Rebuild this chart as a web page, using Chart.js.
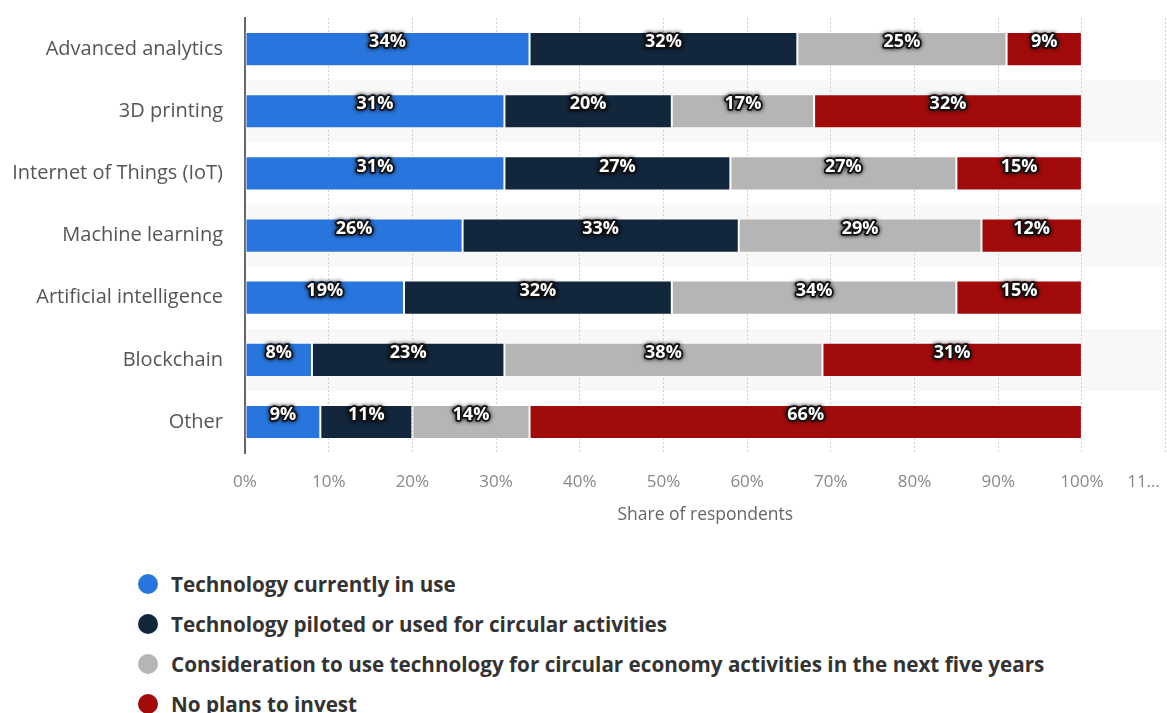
<!DOCTYPE html>
<html>
<head>
<meta charset="utf-8">
<script src="https://cdn.jsdelivr.net/npm/chart.js@4/dist/chart.umd.min.js"></script>
<style>
  html, body { margin: 0; padding: 0; background: #fff; overflow: hidden; }
  #wrap { position: relative; width: 1216px; height: 529px; }
  #legend { position: absolute; left: 138px; top: 564px; font-family: "Open Sans", sans-serif; }
  .item { display: flex; align-items: center; height: 40px; font-size: 20.65px; font-weight: bold; color: #333; white-space: nowrap; }
  .dot { width: 20px; height: 20px; border-radius: 50%; margin-right: 13px; }
</style>
</head>
<body>
<div id="wrap"><canvas id="chart"></canvas></div>
<div id="legend"></div>
<script>
const categories = ['Advanced analytics', '3D printing', 'Internet of Things (IoT)', 'Machine learning',
  'Artificial intelligence', 'Blockchain', 'Other'];
const inUse = [34, 31, 31, 26, 19, 8, 9];
const piloted = [32, 20, 27, 33, 32, 23, 11];
const consideration = [25, 17, 27, 29, 34, 38, 14];
const noPlans = [9, 32, 15, 12, 15, 31, 66];
const seriesNames = ['Technology currently in use', 'Technology piloted or used for circular activities',
  'Consideration to use technology for circular economy activities in the next five years', 'No plans to invest'];
const seriesColors = ['#2876dd', '#12263c', '#b5b5b5', '#a10b0b'];
const xTicks = [0, 10, 20, 30, 40, 50, 60, 70, 80, 90, 100, 110];

// alternating light row bands behind the grid
const rowBands = {
  id: 'rowBands',
  beforeDraw(chart) {
    const { ctx, chartArea, scales } = chart;
    const y = scales.y;
    const step = y.getPixelForValue(1) - y.getPixelForValue(0);
    ctx.save();
    ctx.fillStyle = '#f8f8f8';
    categories.forEach((c, i) => {
      if (i % 2 === 1) {
        const mid = y.getPixelForValue(i);
        ctx.fillRect(chartArea.left, mid - step / 2, chart.width - chartArea.left, step);
      }
    });
    ctx.restore();
  }
};

// white labels with dark outline on every segment
const segmentLabels = {
  id: 'segmentLabels',
  afterDatasetsDraw(chart) {
    const { ctx } = chart;
    ctx.save();
    ctx.font = 'bold 18px "Open Sans", sans-serif';
    ctx.textAlign = 'center';
    ctx.textBaseline = 'middle';
    ctx.lineJoin = 'round';
    chart.data.datasets.forEach((ds, di) => {
      chart.getDatasetMeta(di).data.forEach((el, i) => {
        const txt = ds.data[i] + '%';
        const x = (el.x + el.base) / 2;
        const y = el.y - 7;
        ctx.shadowColor = 'rgba(0,0,0,0.9)';
        ctx.shadowBlur = 4;
        ctx.strokeStyle = '#111';
        ctx.lineWidth = 3.5;
        ctx.strokeText(txt, x, y);
        ctx.shadowBlur = 0;
        ctx.fillStyle = '#fff';
        ctx.fillText(txt, x, y);
      });
    });
    ctx.restore();
  }
};

const values = [inUse, piloted, consideration, noPlans];

new Chart(document.getElementById('chart'), {
  type: 'bar',
  data: {
    labels: categories,
    datasets: values.map((v, i) => ({
      label: seriesNames[i],
      data: v,
      backgroundColor: seriesColors[i],
      borderColor: 'rgba(255,255,255,0.6)',
      borderWidth: 1,
      borderSkipped: false,
      categoryPercentage: 1,
      barPercentage: 0.55,
    })),
  },
  options: {
    indexAxis: 'y',
    responsive: true,
    maintainAspectRatio: false,
    animation: false,
    layout: { padding: { top: 18, left: 0, bottom: 3.5 } },
    plugins: { legend: { display: false }, tooltip: { enabled: false } },
    scales: {
      x: {
        stacked: true,
        min: 0,
        max: 110,
        afterBuildTicks: (s) => { s.ticks = xTicks.map((v) => ({ value: v })); },
        ticks: {
          padding: 12,
          autoSkip: false,
          maxRotation: 0,
          color: '#888',
          font: { family: '"Open Sans", sans-serif', size: 17 },
          // last label is cut short as in the source; trailing spaces pull it left
          callback: (v) => (v === 110 ? '11…' + '\u00a0'.repeat(10) : v + '%'),
        },
        grid: { color: '#d0d0d0', drawTicks: true, tickLength: 7, tickColor: 'rgba(0,0,0,0)' },
        border: { display: false, dash: [2, 2] },
        title: {
          display: true,
          text: 'Share of respondents',
          color: '#666',
          font: { family: '"Open Sans", sans-serif', size: 17.5 },
          padding: { top: 0, bottom: 0 },
        },
      },
      y: {
        stacked: true,
        afterFit: (s) => { s.width = 245; },
        ticks: {
          padding: 0,
          color: '#555',
          font: { family: '"Open Sans", sans-serif', size: 20 },
        },
        grid: { display: false, drawTicks: true, tickLength: 22 },
        border: { display: true, color: '#666', width: 2 },
      },
    },
  },
  plugins: [rowBands, segmentLabels],
});

const legend = document.getElementById('legend');
seriesNames.forEach((name, i) => {
  const item = document.createElement('div');
  item.className = 'item';
  const dot = document.createElement('span');
  dot.className = 'dot';
  dot.style.background = seriesColors[i];
  const label = document.createElement('span');
  label.textContent = name;
  item.appendChild(dot);
  item.appendChild(label);
  legend.appendChild(item);
});
</script>
</body>
</html>
